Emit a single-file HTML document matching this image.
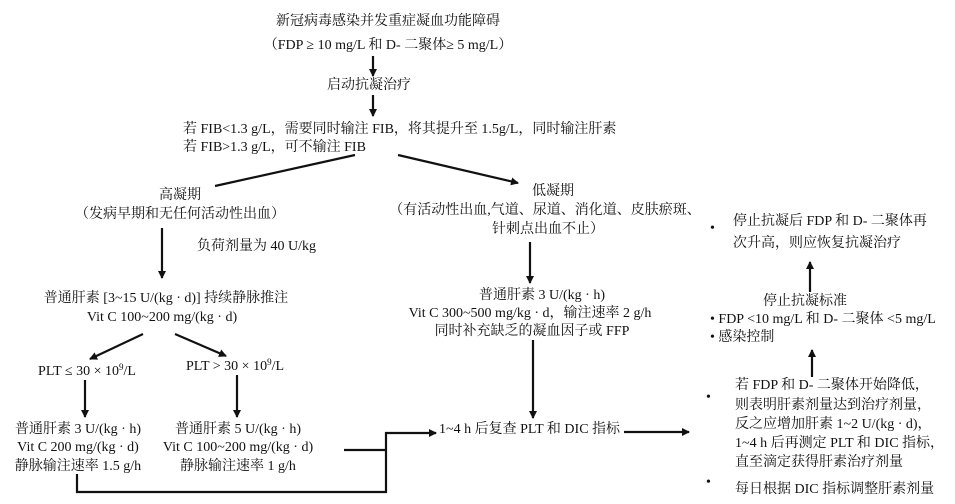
<!DOCTYPE html>
<html><head><meta charset="utf-8"><style>
html,body{margin:0;padding:0;background:#fff;}
svg{display:block}
text{font-family:"Liberation Serif","Noto Serif CJK SC",serif;font-size:14px;fill:#111;}
.c{text-anchor:middle}
</style></head><body>
<svg width="955" height="504" viewBox="0 0 955 504" xmlns="http://www.w3.org/2000/svg">
<defs><marker id="a" markerWidth="8" markerHeight="8" refX="7" refY="4" orient="auto" markerUnits="userSpaceOnUse"><path d="M0,0 L8,4 L0,8 z" fill="#111"/></marker></defs>
<g stroke="#111" stroke-width="2.2" fill="none">
<line x1="373" y1="56" x2="373" y2="76" marker-end="url(#a)"/>
<line x1="373" y1="95" x2="373" y2="116" marker-end="url(#a)"/>
<line x1="355" y1="155" x2="215" y2="186"/>
<line x1="398" y1="155" x2="518" y2="183" marker-end="url(#a)"/>
<line x1="162" y1="228" x2="162" y2="278" marker-end="url(#a)"/>
<line x1="143" y1="334" x2="90" y2="359" marker-end="url(#a)"/>
<line x1="175" y1="334" x2="226" y2="356" marker-end="url(#a)"/>
<line x1="85" y1="380" x2="85" y2="417" marker-end="url(#a)"/>
<line x1="237" y1="375" x2="237" y2="417" marker-end="url(#a)"/>
<polyline points="77,474 77,492 386,492 386,433 436,433" marker-end="url(#a)"/>
<line x1="344" y1="450" x2="386" y2="450"/>
<line x1="530" y1="242" x2="530" y2="283" marker-end="url(#a)"/>
<line x1="533" y1="340" x2="533" y2="418" marker-end="url(#a)"/>
<line x1="624" y1="432" x2="689" y2="432" marker-end="url(#a)"/>
<line x1="810" y1="292" x2="810" y2="262" marker-end="url(#a)"/>
<line x1="812" y1="377" x2="812" y2="350" marker-end="url(#a)"/>
</g>
<text class="c" x="388" y="25">新冠病毒感染并发重症凝血功能障碍</text>
<text class="c" x="388" y="49">（FDP ≥ 10 mg/L 和 D- 二聚体≥ 5 mg/L）</text>
<text class="c" x="369" y="89">启动抗凝治疗</text>
<text x="183" y="133">若 FIB&lt;1.3 g/L，需要同时输注 FIB，将其提升至 1.5g/L，同时输注肝素</text>
<text x="183" y="151">若 FIB&gt;1.3 g/L，可不输注 FIB</text>
<text class="c" x="180" y="199">高凝期</text>
<text class="c" x="180" y="218">（发病早期和无任何活动性出血）</text>
<text x="197" y="250">负荷剂量为 40 U/kg</text>
<text class="c" x="166" y="302">普通肝素 [3~15 U/(kg · d)] 持续静脉推注</text>
<text class="c" x="162" y="321">Vit C 100~200 mg/(kg · d)</text>
<text class="c" x="87" y="375">PLT ≤ 30 × 10<tspan font-size="9" dy="-5">9</tspan><tspan dy="5">/L</tspan></text>
<text class="c" x="235" y="370">PLT &gt; 30 × 10<tspan font-size="9" dy="-5">9</tspan><tspan dy="5">/L</tspan></text>
<text class="c" x="78" y="433">普通肝素 3 U/(kg · h)</text>
<text class="c" x="78" y="451">Vit C 200 mg/(kg · d)</text>
<text class="c" x="78" y="470">静脉输注速率 1.5 g/h</text>
<text class="c" x="238" y="433">普通肝素 5 U/(kg · h)</text>
<text class="c" x="238" y="451">Vit C 100~200 mg/(kg · d)</text>
<text class="c" x="238" y="470">静脉输注速率 1 g/h</text>
<text class="c" x="553" y="195">低凝期</text>
<text class="c" x="545" y="214">（有活动性出血,气道、尿道、消化道、皮肤瘀斑、</text>
<text class="c" x="548" y="233">针刺点出血不止）</text>
<text class="c" x="542" y="299">普通肝素 3 U/(kg · h)</text>
<text class="c" x="530" y="317">Vit C 300~500 mg/kg · d，输注速率 2 g/h</text>
<text class="c" x="532" y="335">同时补充缺乏的凝血因子或 FFP</text>
<text x="439" y="433">1~4 h 后复查 PLT 和 DIC 指标</text>
<text x="710" y="232">•</text>
<text x="733" y="225">停止抗凝后 FDP 和 D- 二聚体再</text>
<text x="733" y="247">次升高，则应恢复抗凝治疗</text>
<text class="c" x="805" y="305">停止抗凝标准</text>
<text x="710" y="323">• FDP &lt;10 mg/L 和 D- 二聚体 &lt;5 mg/L</text>
<text x="710" y="341">• 感染控制</text>
<text x="706" y="401">•</text>
<text x="735" y="389">若 FDP 和 D- 二聚体开始降低，</text>
<text x="735" y="409">则表明肝素剂量达到治疗剂量，</text>
<text x="735" y="428">反之应增加肝素 1~2 U/(kg · d)，</text>
<text x="735" y="447">1~4 h 后再测定 PLT 和 DIC 指标，</text>
<text x="735" y="466">直至滴定获得肝素治疗剂量</text>
<text x="706" y="486">•</text>
<text x="735" y="493">每日根据 DIC 指标调整肝素剂量</text>
</svg>
</body></html>
